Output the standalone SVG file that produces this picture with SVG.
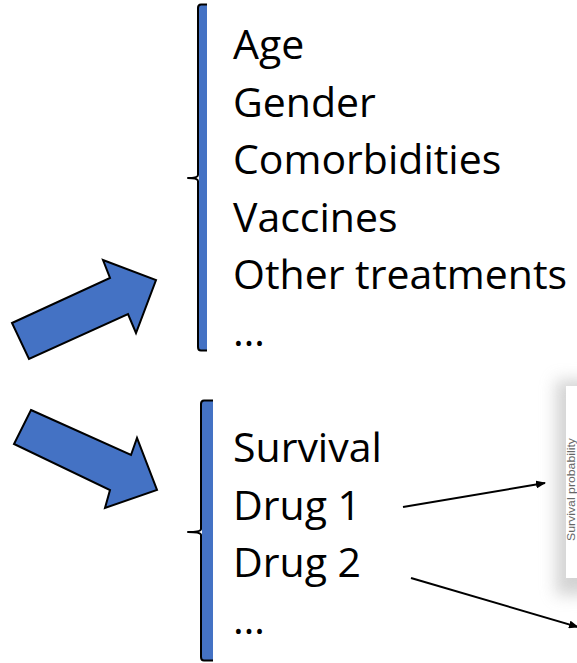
<svg xmlns="http://www.w3.org/2000/svg" width="577" height="663" viewBox="0 0 577 663">
  <style>
    .bar { fill: #4472C4; }
    .brace { fill: none; stroke: #000; stroke-width: 2; stroke-linejoin: round; }
    .block { fill: #4472C4; stroke: #000; stroke-width: 2; stroke-linejoin: miter; }
    .label { font-family: "Open Sans", "Liberation Sans", Arial, sans-serif; font-size: 41px; fill: #000; }
    .link { stroke: #000; stroke-width: 2; fill: none; }
    .axis { font-family: "Liberation Sans", Arial, sans-serif; font-size: 11px; fill: #666666; }
  </style>
  <defs>
    <marker id="head" markerWidth="10" markerHeight="8" refX="9" refY="4" orient="auto" markerUnits="userSpaceOnUse" viewBox="0 0 10 8">
      <path d="M0,0 L10,4 L0,8 Z" fill="#000"/>
    </marker>
    <filter id="soft" x="-50%" y="-50%" width="200%" height="200%">
      <feGaussianBlur stdDeviation="8"/>
    </filter>
  </defs>

  <!-- chart panel at right edge -->
  <g id="chart">
    <rect x="556" y="380" width="40" height="215" fill="#c8c8c8" filter="url(#soft)" opacity="0.8"/>
    <rect x="566" y="386" width="20" height="192" fill="#ffffff"/>
    <text class="axis" transform="translate(575,541) rotate(-90)" textLength="103" lengthAdjust="spacingAndGlyphs">Survival probability</text>
  </g>

  <!-- block arrows -->
  <g id="arrow-up">
    <polygon class="block" points="12,323 110,278 103,260 156,280 136,333 128,314 29,359"/>
  </g>
  <g id="arrow-down">
    <polygon class="block" points="31,410 131,455 137,438 157,490 105,508 110,490 14,444"/>
  </g>

  <!-- covariates group -->
  <g id="covariates">
    <rect class="bar" x="199" y="5" width="8" height="345"/>
    <path class="brace" d="M207,4.5 L201,4.5 Q198,4.5 198,8 L198,175 Q198,178 188,178 Q198,178 198,181 L198,347 Q198,350.5 201,350.5 L207,350.5"/>
    <text class="label" x="233" y="59">Age</text>
    <text class="label" x="233" y="117">Gender</text>
    <text class="label" x="233" y="174">Comorbidities</text>
    <text class="label" x="233" y="232">Vaccines</text>
    <text class="label" x="233" y="289">Other treatments</text>
    <text class="label" x="233" y="346">…</text>
  </g>

  <!-- outcomes group -->
  <g id="outcomes">
    <rect class="bar" x="202" y="401" width="11" height="260"/>
    <path class="brace" d="M213,400.5 L204,400.5 Q201,400.5 201,404 L201,529 Q201,532 188,532 Q201,532 201,535 L201,657 Q201,660.5 204,660.5 L213,660.5"/>
    <text class="label" x="233" y="462">Survival</text>
    <text class="label" x="233" y="520">Drug 1</text>
    <text class="label" x="233" y="577">Drug 2</text>
    <text class="label" x="233" y="634">…</text>
  </g>

  <!-- connectors -->
  <g id="connectors">
    <line class="link" x1="403" y1="507" x2="545" y2="483" marker-end="url(#head)"/>
    <line class="link" x1="411" y1="578" x2="578" y2="627" marker-end="url(#head)"/>
  </g>
</svg>
